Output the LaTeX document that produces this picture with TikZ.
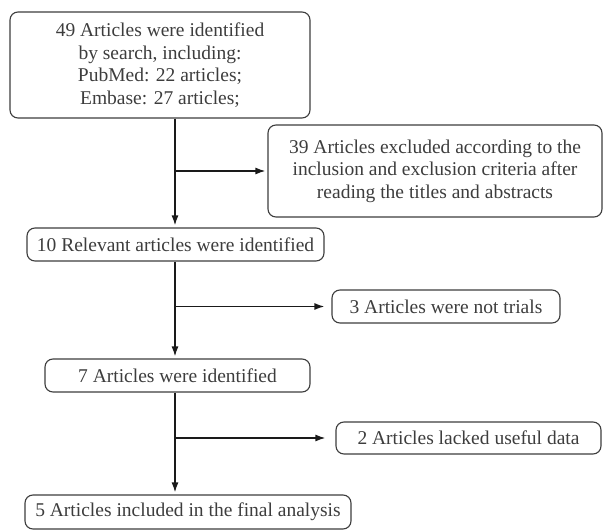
\documentclass[tikz,border=0pt]{standalone}
\usepackage{fontspec}
\setmainfont{Liberation Serif}
\usetikzlibrary{arrows.meta}
\definecolor{Linie}{HTML}{1A1A1A}
\definecolor{Schrift}{HTML}{3D3D3D}
\tikzstyle{Kasten}= [rectangle,draw=Schrift,rounded corners=8pt,line width=1.1pt,inner sep=0pt,align=center,text=Schrift,font=\fontsize{19.5}{22.5}\selectfont]

\begin{document}
\begin{tikzpicture}[x=1pt,y=-1pt,shorten >=2pt,>={Latex[length=10pt,width=7pt]}]

		\useasboundingbox (0,0) rectangle (603,530);

		\node [Kasten,minimum width=300pt,minimum height=106pt] (0) at (160,65) {49 Articles were identified\\by search, including:\\PubMed: 22 articles;\\Embase: 27 articles;};
		\node [Kasten,minimum width=334pt,minimum height=92pt] (1) at (435,171) {39 Articles excluded according to the\\inclusion and exclusion criteria after\\reading the titles and abstracts};
		\node [Kasten,minimum width=297pt,minimum height=33pt] (2) at (175.5,244.5) {10 Relevant articles were identified};
		\node [Kasten,minimum width=228pt,minimum height=33pt] (3) at (446,306.5) {3 Articles were not trials};
		\node [Kasten,minimum width=265pt,minimum height=33pt] (4) at (177.5,375.5) {7 Articles were identified};
		\node [Kasten,minimum width=265pt,minimum height=32pt] (5) at (468.5,438) {2 Articles lacked useful data};
		\node [Kasten,minimum width=326pt,minimum height=34pt] (6) at (188,512) {5 Articles included in the final analysis};

		\coordinate (m) at (175,0);

		\draw[line width=1.5pt,Linie,->]
		(0.south -| m) -- (2.north -| m);
		\draw[line width=1.5pt,Linie,->]
		(1.west -| m) -- (1.west);
		\draw[line width=1.5pt,Linie,->]
		(2.south -| m) -- (4.north -| m);
		\draw[line width=1.5pt,Linie,->,shorten >=7pt]
		(3.west -| m) -- (3.west);
		\draw[line width=1.5pt,Linie,->]
		(4.south -| m) -- (6.north -| m);
		\draw[line width=1.5pt,Linie,->,shorten >=10pt]
		(5.west -| m) -- (5.west);
		;

	\end{tikzpicture}
\end{document}
